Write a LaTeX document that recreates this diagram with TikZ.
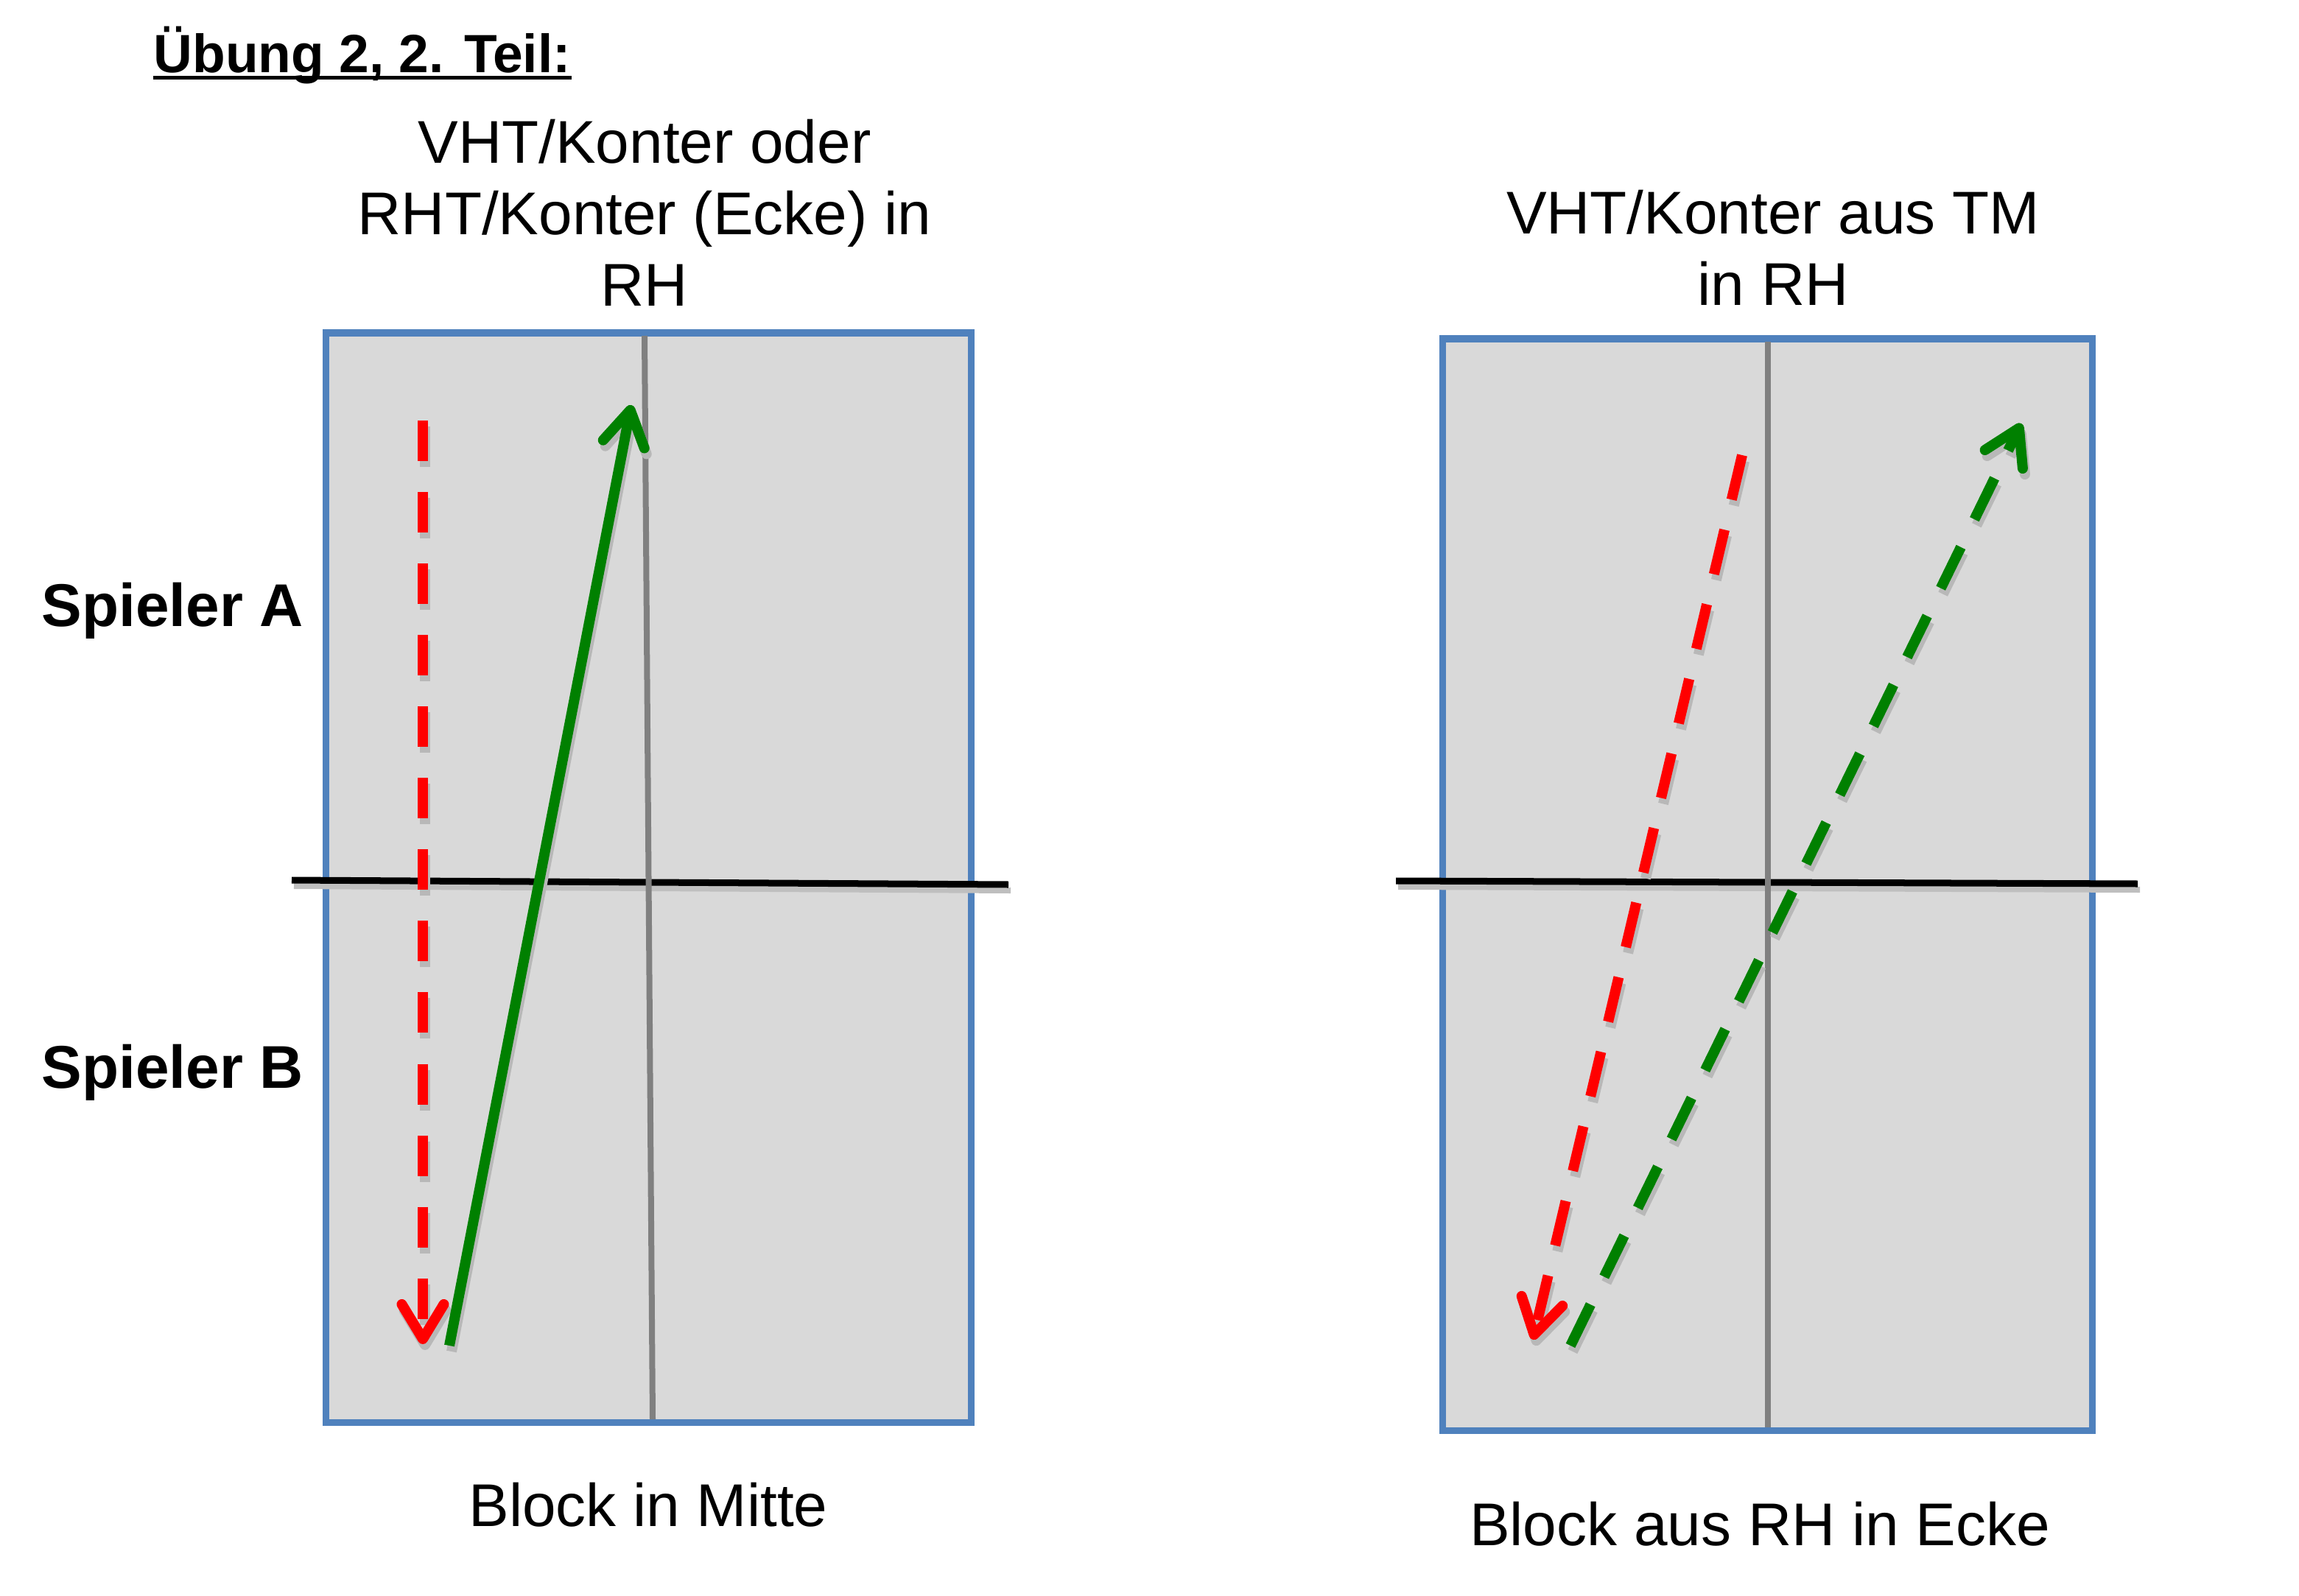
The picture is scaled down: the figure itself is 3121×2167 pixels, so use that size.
\documentclass[tikz,border=0pt]{standalone}
\usepackage{fontspec}
\setmainfont{Liberation Sans}
\usetikzlibrary{arrows.meta}
\usetikzlibrary{positioning}
\usetikzlibrary{calc}

\definecolor{tablefill}{RGB}{217,217,217}
\definecolor{tableedge}{RGB}{79,129,189}
\definecolor{ballgreen}{RGB}{0,128,0}

\begin{document}
\begin{tikzpicture}[x=0.01cm, y=-0.01cm,
    >={Straight Barb[round, length=0.47cm, width=0.57cm]},
    shadowshift/.style={transform canvas={xshift=0.03cm, yshift=-0.08cm}},
    ball/.style={line width=0.14cm, preaction={draw=black!28, line width=0.14cm, ->, shadowshift}},
    shortdash/.style={line width=0.14cm, dash pattern=on 0.55cm off 0.42cm,
        preaction={draw=black!28, line width=0.14cm, ->, dash pattern=on 0.55cm off 0.42cm, shadowshift}},
    longdash/.style={line width=0.14cm, dash pattern=on 0.62cm off 0.42cm,
        preaction={draw=black!28, line width=0.14cm, ->, dash pattern=on 0.62cm off 0.42cm, shadowshift}},
    net/.style={line width=0.09cm, preaction={draw=black!25, line width=0.08cm, shadowshift}},
    txt/.style={inner sep=0pt, font=\fontsize{23.3}{27.6}\selectfont}]

	\useasboundingbox (0,0) rectangle (3121,2167);

	% tables
	\foreach \xa/\ya/\xb/\yb in {442/452/1318/1931, 1958/460/2840/1942} {
		\draw[tableedge, line width=0.09cm, fill=tablefill] (\xa,\ya) rectangle (\xb,\yb);
	}
	% nets
	\foreach \xa/\ya/\xb/\yb in {396/1195/1369/1201, 1895/1196/2902/1200} {
		\draw[black, net] (\xa,\ya) -- (\xb,\yb);
	}
	% centre lines
	\foreach \xa/\ya/\xn/\yb in {875/456/886/1927, 2400/464/2400/1938} {
		\draw[gray, line width=0.08cm] (\xa,\ya) -- (\xn,\yb);
	}

	\node[txt, font=\bfseries\fontsize{20.8}{24}\selectfont, anchor=base west] (title) at (208,99) {Übung 2, 2. Teil:};
	\draw[line width=0.05cm] ($(title.base west)+(0,7)$) -- ($(title.base east)+(0,7)$);

	\node[txt, align=center] (headleft) at (875,289) {VHT/Konter oder\\RHT/Konter (Ecke) in\\RH};
	\node[txt, align=center] (headright) at (2407,336) {VHT/Konter aus TM\\in RH};

	\node[txt, font=\bfseries\fontsize{23.3}{27.6}\selectfont, anchor=base west] (spielera) at (56,850) {Spieler A};
	\node[txt, font=\bfseries\fontsize{23.3}{27.6}\selectfont, anchor=base west] (spielerb) at (56,1477) {Spieler B};

	\node[txt, anchor=base] (footleft) at (880,2072) {Block in Mitte};
	\node[txt, anchor=base] (footright) at (2389,2098) {Block aus RH in Ecke};

	% ball paths
	\coordinate (la) at (574,571);
	\coordinate (lb) at (574,1825);
	\coordinate (lc) at (610,1827);
	\coordinate (ld) at (857,550);
	\coordinate (ra) at (2365,618);
	\coordinate (rb) at (2081,1819);
	\coordinate (rc) at (2132,1827);
	\coordinate (rd) at (2744,575);

	\draw[->, shortdash, red] (la) -- (lb);
	\draw[->, ball, ballgreen] (lc) -- (ld);
	\draw[->, longdash, red] (ra) -- (rb);
	\draw[->, longdash, ballgreen] (rc) -- (rd);

\end{tikzpicture}
\end{document}
